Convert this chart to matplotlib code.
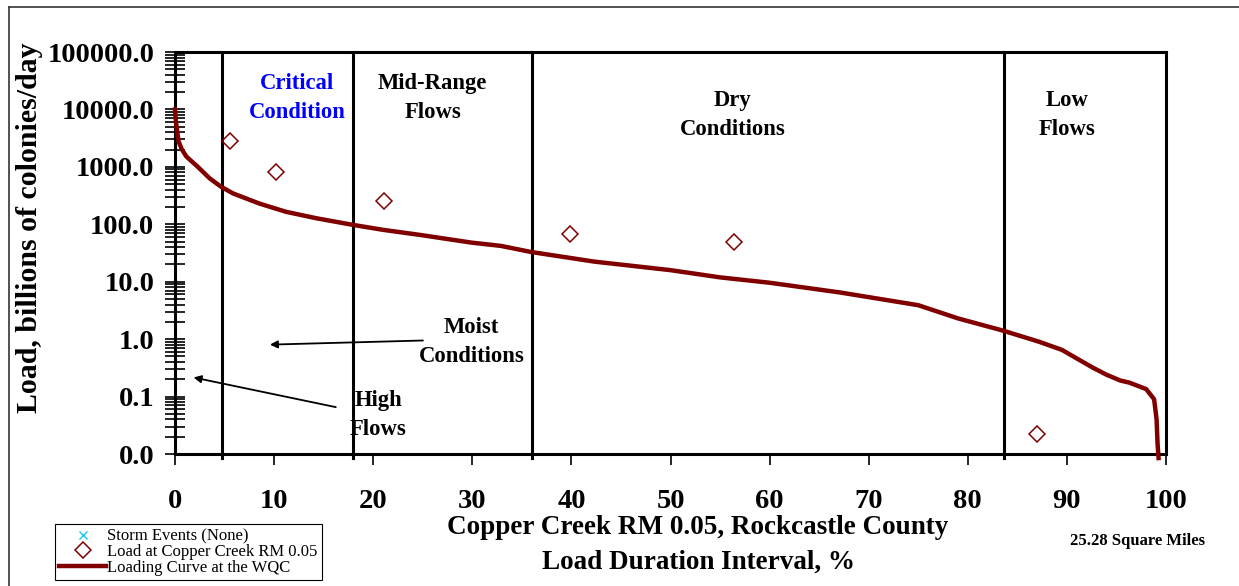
import matplotlib
matplotlib.use("Agg")
import matplotlib.pyplot as plt
from matplotlib.ticker import FixedLocator, LogLocator, NullFormatter

plt.rcParams["font.family"] = ["Liberation Serif", "DejaVu Serif"]
plt.rcParams["font.weight"] = "bold"

# -- data -------------------------------------------------------------------
curve_x = [0.0, 0.1, 0.25, 0.36, 0.7, 1.15, 2.3, 3.5, 4.65, 5.85, 8.5, 11.2,
           14.3, 17.9, 21.0, 24.8, 29.9, 32.9, 35.9, 42.3, 50.0, 55.0, 60.0,
           67.1, 75.0, 79.0, 83.6, 87.2, 89.5, 91.3, 92.6, 94.0, 95.4, 96.3,
           98.0, 98.8, 99.05, 99.15, 99.25]
curve_y = [10000, 6000, 3800, 2770, 2000, 1510, 1000, 630, 450, 345, 230, 165,
           127, 98, 80, 65, 48, 42, 33, 22.4, 15.9, 11.9, 9.6,
           6.5, 3.9, 2.3, 1.4, 0.9, 0.65, 0.43, 0.32, 0.24, 0.19, 0.175,
           0.135, 0.09, 0.04, 0.015, 0.0085]

obs_x = [5.6, 10.2, 21.1, 39.85, 56.4, 87.0]
obs_y = [2800, 822, 255, 69, 49, 0.022]

storm_x = []
storm_y = []

zone_edges = [4.7, 18.0, 36.0, 83.7]
zone_labels = ["Critical\nCondition", "Mid-Range\nFlows", "Dry\nConditions", "Low\nFlows"]
zone_label_x = [12.3, 26.0, 56.3, 90.0]

yticks = [0.01, 0.1, 1, 10, 100, 1000, 10000, 100000]
ytick_labels = ["0.0", "0.1", "1.0", "10.0", "100.0", "1000.0", "10000.0", "100000.0"]
xticks = list(range(0, 101, 10))

RED = "#800000"
W, H = 1239, 586

fig = plt.figure(figsize=(W / 100, H / 100), dpi=100)
ax = fig.add_axes([175 / W, 1 - 454 / H, (1166 - 175) / W, (454 - 52) / H])

ax.set_yscale("log")
ax.set_xlim(0, 100)
ax.set_ylim(0.01, 100000)

# zone separators
for xv in zone_edges:
    ax.plot([xv, xv], [0.0085, 100000], color="black", lw=2.2, clip_on=False, zorder=2)

ax.plot(storm_x, storm_y, "x", color="#1EC8F0", label="Storm Events (None)")
ax.plot(obs_x, obs_y, "D", mfc="none", mec=RED, mew=1.1, ms=8, ls="none",
        label="Load at Copper Creek RM 0.05", zorder=4)
ax.plot(curve_x, curve_y, color=RED, lw=3.2, label="Loading Curve at the WQC",
        clip_on=False, zorder=3)

# ticks
ax.yaxis.set_major_locator(FixedLocator(yticks))
ax.set_yticklabels(ytick_labels)
ax.yaxis.set_minor_locator(LogLocator(base=10, subs=range(2, 10), numticks=20))
ax.yaxis.set_minor_formatter(NullFormatter())
ax.set_xticks(xticks)
ax.tick_params(axis="y", which="both", direction="inout", length=14, width=1.2,
               labelsize=20.5, pad=8)
ax.tick_params(axis="x", which="major", direction="out", length=8, width=1.2,
               labelsize=20.5, pad=17)
for lab in ax.get_xticklabels() + ax.get_yticklabels():
    lab.set_fontweight("bold")
for sp in ax.spines.values():
    sp.set_linewidth(2.2)

# zone labels
for xl, txt in zip(zone_label_x, zone_labels):
    ypos = 16000 if txt.startswith(("Critical", "Mid")) else 8000
    ax.text(xl, ypos, txt, ha="center", va="center", fontsize=16.3,
            fontweight="bold", linespacing=1.5,
            color="#0000FF" if txt.startswith("Critical") else "black")

ax.text(29.9, 0.9, "Moist\nConditions", ha="center", va="center", fontsize=16.3,
        fontweight="bold", linespacing=1.5)
ax.annotate("", xy=(9.3, 0.8), xytext=(25.3, 0.95),
            arrowprops=dict(arrowstyle="-|>", color="black", lw=1.3, mutation_scale=11))
ax.text(20.5, 0.047, "High\nFlows", ha="center", va="center", fontsize=16.3,
        fontweight="bold", linespacing=1.5)
ax.annotate("", xy=(1.6, 0.22), xytext=(16.5, 0.064),
            arrowprops=dict(arrowstyle="-|>", color="black", lw=1.3, mutation_scale=11))

# axis titles
fig.text(30 / W, 1 - 228 / H, "Load, billions of colonies/day", rotation=90,
         ha="center", va="center", fontsize=21.5, fontweight="bold")
fig.text(698 / W, 1 - 528 / H, "Copper Creek RM 0.05, Rockcastle County",
         ha="center", va="center", fontsize=19.5, fontweight="bold")
fig.text(698 / W, 1 - 562 / H, "Load Duration Interval, %",
         ha="center", va="center", fontsize=19.5, fontweight="bold")
fig.text(1137 / W, 1 - 541 / H, "25.28 Square Miles", ha="center", va="center",
         fontsize=12, fontweight="bold")

leg = fig.legend(loc="lower left", bbox_to_anchor=(55 / W, 1 - 580 / H),
                 fancybox=False, edgecolor="black", framealpha=1,
                 prop={"family": "Liberation Serif", "weight": "normal", "size": 12},
                 borderpad=0.25, labelspacing=-0.02, handlelength=2.8,
                 handletextpad=0.1, borderaxespad=0)
leg.get_frame().set_linewidth(0.8)

# outer frame (top and left edges visible)
fig.add_artist(plt.Line2D([9 / W, 1.0], [1 - 7 / H, 1 - 7 / H], color="#333333", lw=1.2))
fig.add_artist(plt.Line2D([9 / W, 9 / W], [0, 1 - 7 / H], color="#333333", lw=1.2))

fig.savefig("out.png", dpi=100, facecolor="white")
